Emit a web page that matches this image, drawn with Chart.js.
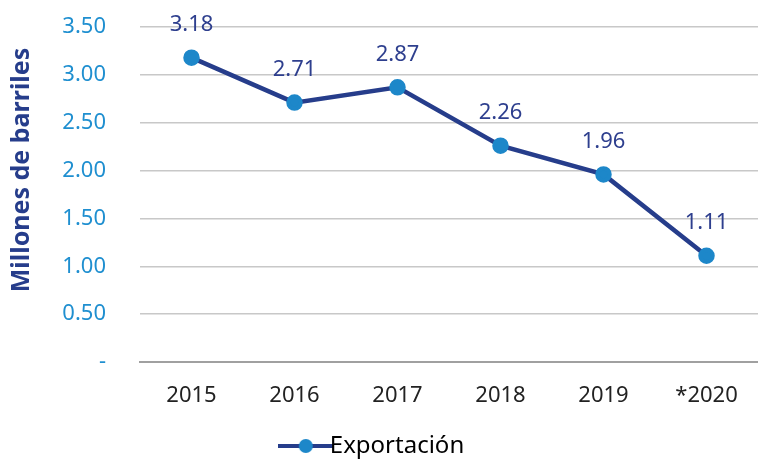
<!DOCTYPE html>
<html>
<head>
<meta charset="utf-8">
<script src="https://cdn.jsdelivr.net/npm/chart.js@4"></script>
<style>
  html, body { margin: 0; padding: 0; background: #fff; }
  #wrap { width: 758px; height: 459px; }
</style>
</head>
<body>
<div id="wrap"><canvas id="myChart"></canvas></div>
<script>
const years = ['2015', '2016', '2017', '2018', '2019', '*2020'];
const exportacion = [3.18, 2.71, 2.87, 2.26, 1.96, 1.11];
const yTicks = [0, 0.5, 1, 1.5, 2, 2.5, 3, 3.5];
const yTitle = 'Millones de barriles';

const FONT = '"Noto Sans", sans-serif';
const lineColor = '#263d8b';
const dotColor = '#1d87c9';

// legend swatch: line with a dot in the middle
const swatch = document.createElement('canvas');
swatch.width = 56;
swatch.height = 16;
const sctx = swatch.getContext('2d');
sctx.strokeStyle = lineColor;
sctx.lineWidth = 4;
sctx.beginPath();
sctx.moveTo(0, 8);
sctx.lineTo(56, 8);
sctx.stroke();
sctx.fillStyle = dotColor;
sctx.beginPath();
sctx.arc(28, 8, 7, 0, Math.PI * 2);
sctx.fill();

const valueLabels = {
  id: 'valueLabels',
  afterDatasetsDraw(chart) {
    const c = chart.ctx;
    const meta = chart.getDatasetMeta(0);
    c.save();
    c.font = '22px ' + FONT;
    c.fillStyle = '#2e3f8e';
    c.textAlign = 'center';
    c.textBaseline = 'middle';
    meta.data.forEach(function(pt, i) {
      c.fillText(exportacion[i].toFixed(2), pt.x, pt.y - 33);
    });
    c.restore();
  }
};

// y axis title, drawn a bit above the middle like the original
const axisTitle = {
  id: 'axisTitle',
  afterDraw(chart) {
    const c = chart.ctx;
    c.save();
    c.translate(22, 170);
    c.rotate(-Math.PI / 2);
    c.font = 'bold 25px ' + FONT;
    c.fillStyle = '#263d8b';
    c.textAlign = 'center';
    c.textBaseline = 'middle';
    c.fillText(yTitle, 0, 0);
    c.restore();
  }
};

new Chart(document.getElementById('myChart'), {
  type: 'line',
  data: {
    labels: years,
    datasets: [{
      label: 'Exportación',
      data: exportacion,
      borderColor: lineColor,
      borderWidth: 4.5,
      pointBackgroundColor: dotColor,
      pointBorderColor: dotColor,
      pointRadius: 6,
      pointStyle: 'circle',
      tension: 0
    }]
  },
  options: {
    animation: false,
    responsive: true,
    maintainAspectRatio: false,
    layout: { autoPadding: false, padding: { top: 0, left: 0, right: 0, bottom: -9 } },
    plugins: {
      legend: {
        position: 'bottom',
        labels: {
          usePointStyle: true,
          font: { family: FONT, size: 24 },
          color: '#222',
          padding: 3,
          generateLabels: function(chart) {
            return [{
              text: 'Exportación',
              pointStyle: swatch,
              fillStyle: dotColor,
              strokeStyle: lineColor,
              lineWidth: 0,
              datasetIndex: 0
            }];
          }
        }
      },
      tooltip: { enabled: false }
    },
    scales: {
      x: {
        offset: true,
        grid: { display: false },
        border: { color: '#a0a0a0', width: 2 },
        afterFit: function(scale) { scale.height = 69; },
        ticks: {
          color: '#222',
          font: { family: FONT, size: 22 },
          padding: 13
        }
      },
      y: {
        min: 0,
        max: 3.5,
        afterFit: function(scale) {
          scale.width = 140;
          scale.paddingTop = 27;
          scale.paddingBottom = 0;
        },
        afterBuildTicks: function(scale) {
          scale.ticks = yTicks.map(function(v) { return { value: v }; });
        },
        border: { display: false },
        grid: {
          color: function(ctx) { return ctx.tick.value === 0 ? 'rgba(0,0,0,0)' : '#c8c8c8'; },
          lineWidth: 1.5,
          drawTicks: false
        },
        ticks: {
          color: '#1f8fd0',
          font: { family: FONT, size: 22 },
          padding: 34,
          callback: function(v) { return v === 0 ? '-' : v.toFixed(2); }
        }
      }
    }
  },
  plugins: [valueLabels, axisTitle]
});
</script>
</body>
</html>
